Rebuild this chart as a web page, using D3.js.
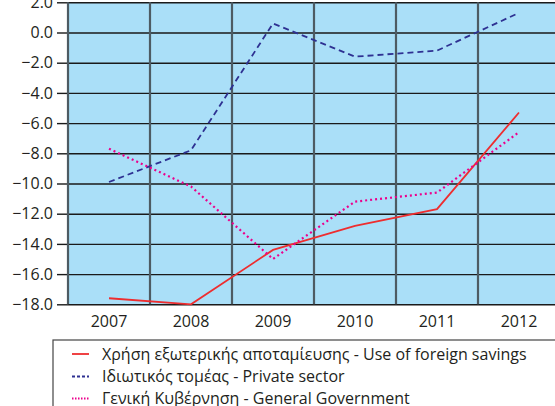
<!DOCTYPE html>
<html>
<head>
<meta charset="utf-8">
<script src="https://cdn.jsdelivr.net/npm/d3@7"></script>
<style>
  body { margin: 0; background: #fff; overflow: hidden; }
  svg { display: block; font-family: "Open Sans", sans-serif; }
</style>
</head>
<body>
<div id="chart"></div>
<script>
const years = ["2007", "2008", "2009", "2010", "2011", "2012"];
const foreignSavings = [-17.6, -18.0, -14.4, -12.8, -11.7, -5.3];
const privateSector = [-9.9, -7.8, 0.6, -1.6, -1.2, 1.3];
const generalGov = [-7.7, -10.2, -15.0, -11.2, -10.6, -6.6];
const yTicks = [2, 0, -2, -4, -6, -8, -10, -12, -14, -16, -18];

const seriesNames = [
  "Χρήση εξωτερικής αποταμίευσης - Use of foreign savings",
  "Ιδιωτικός τομέας - Private sector",
  "Γενική Κυβέρνηση - General Government"
];

const W = 555, H = 406;
const plot = { left: 68, right: 560, top: 2.3, bottom: 304.3 };
const font = "'Open Sans', sans-serif";

const svg = d3.select("#chart").append("svg")
  .attr("width", W)
  .attr("height", H);

const x = d3.scaleBand().domain(years).range([plot.left, plot.right]);
const y = d3.scaleLinear().domain([-18, 2]).range([plot.bottom, plot.top]);

// background
svg.append("rect")
  .attr("x", plot.left).attr("y", plot.top)
  .attr("width", plot.right - plot.left).attr("height", plot.bottom - plot.top)
  .attr("fill", "#aadff8");

// horizontal gridlines
svg.append("g")
  .attr("class", "grid")
  .attr("transform", "translate(" + plot.left + ",0)")
  .call(d3.axisLeft(y).tickValues(yTicks).tickSize(-(plot.right - plot.left)).tickFormat(""))
  .call(g => g.select(".domain").remove())
  .call(g => g.selectAll("line").attr("stroke", "#1a1a1a").attr("stroke-width", 1.4));

// y axis ticks and labels
const yAxis = svg.append("g")
  .attr("transform", "translate(" + plot.left + ",0)")
  .call(d3.axisLeft(y).tickValues(yTicks).tickSize(11).tickPadding(4).tickFormat(d3.format(".1f")));
yAxis.select(".domain").remove();
yAxis.selectAll("line").attr("stroke", "#1a1a1a").attr("stroke-width", 1.4);
yAxis.selectAll("text")
  .attr("fill", "#231f20")
  .style("font-size", "16px")
  .style("font-family", font);

// vertical gridlines at band edges
const edges = years.map(d => x(d)).concat([plot.right]);
svg.append("g").selectAll("line")
  .data(edges)
  .enter().append("line")
  .attr("x1", d => d).attr("x2", d => d)
  .attr("y1", plot.top).attr("y2", plot.bottom)
  .attr("stroke", "#4d5b63")
  .attr("stroke-width", 2.2);

// x axis labels
const xAxis = svg.append("g")
  .attr("transform", "translate(0," + plot.bottom + ")")
  .call(d3.axisBottom(x).tickSize(0).tickPadding(11));
xAxis.select(".domain").remove();
xAxis.selectAll("text")
  .attr("fill", "#231f20")
  .style("font-size", "16px")
  .style("font-family", font);

// lines
const line = d3.line()
  .x((d, i) => x(years[i]) + x.bandwidth() / 2)
  .y(d => y(d));

const styles = [
  { data: foreignSavings, color: "#ee2d2f", dash: null, legendDash: null, width: 1.8 },
  { data: privateSector, color: "#2e3192", dash: "6,4", legendDash: "3,2", width: 1.8 },
  { data: generalGov, color: "#ec008c", dash: "2,3", legendDash: "1.5,1.5", width: 2.2 }
];

styles.forEach(s => {
  svg.append("path")
    .datum(s.data)
    .attr("fill", "none")
    .attr("stroke", s.color)
    .attr("stroke-width", s.width)
    .attr("stroke-dasharray", s.dash)
    .attr("d", line);
});

// legend
const legend = svg.append("g");
legend.append("rect")
  .attr("x", 53).attr("y", 340)
  .attr("width", 520).attr("height", 100)
  .attr("fill", "#fff")
  .attr("stroke", "#444")
  .attr("stroke-width", 1.2);

const legendY = [354, 376.5, 398.5];
styles.forEach((s, i) => {
  legend.append("line")
    .attr("x1", 72).attr("x2", 89)
    .attr("y1", legendY[i]).attr("y2", legendY[i])
    .attr("stroke", s.color)
    .attr("stroke-width", s.width)
    .attr("stroke-dasharray", s.legendDash);
  legend.append("text")
    .attr("x", 102).attr("y", legendY[i])
    .attr("dy", "0.35em")
    .attr("fill", "#231f20")
    .style("font-size", "16px")
    .style("font-family", font)
    .text(seriesNames[i]);
});
</script>
</body>
</html>
